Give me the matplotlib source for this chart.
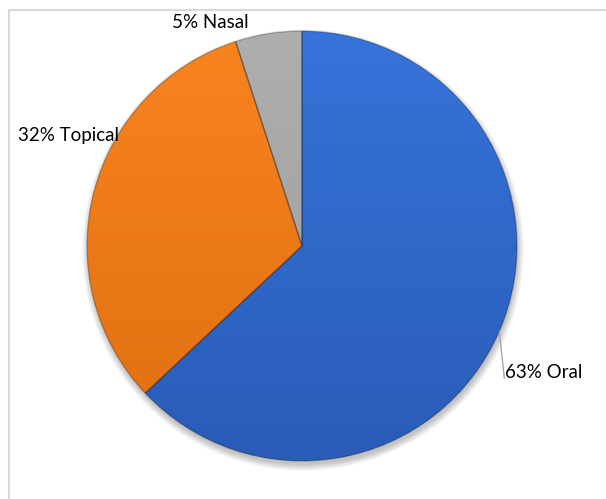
import numpy as np
import matplotlib.pyplot as plt
from matplotlib.colors import LinearSegmentedColormap
from matplotlib.patches import Circle
from matplotlib.lines import Line2D

# Datos del gráfico
categorias = ["Oral", "Topical", "Nasal"]
porcentajes = [63, 32, 5]
colores_claros = ["#3673DA", "#F7841F", "#AEAEAE"]
colores_oscuros = ["#2A5CB8", "#E26F10", "#9C9C9C"]

W, H = 606, 499
cx, cy, r = 302, H - 246, 215

fig = plt.figure(figsize=(W / 100, H / 100), dpi=100)
ax = fig.add_axes([0, 0, 1, 1])

# Marco gris (arriba e izquierda)
fig.add_artist(Line2D([8.5 / W, 1], [1 - 9.5 / H, 1 - 9.5 / H], color="#D9D9D9", lw=1.5))
fig.add_artist(Line2D([8.5 / W, 8.5 / W], [0, 1 - 9.5 / H], color="#D9D9D9", lw=1.5))

# Sombra suave debajo del pastel
for i in range(12):
    ax.add_patch(Circle((cx + 1, cy - 4), r + 6 - i * 0.6, color="black",
                        alpha=0.018, lw=0, zorder=1))

wedges, _ = ax.pie(porcentajes, startangle=90, counterclock=False,
                   center=(cx, cy), radius=r, colors=colores_claros,
                   wedgeprops=dict(linewidth=0.8, zorder=2))

# Degradado vertical dentro de cada porción
grad = np.linspace(0, 1, 256).reshape(-1, 1)
for w, c1, c2 in zip(wedges, colores_claros, colores_oscuros):
    cmap = LinearSegmentedColormap.from_list("g", [c1, c2])
    im = ax.imshow(grad, cmap=cmap, extent=[cx - r, cx + r, cy - r, cy + r],
                   origin="upper", aspect="auto", zorder=3)
    im.set_clip_path(w)

# Bordes finos sobre el degradado
for w in wedges:
    w.set_zorder(4)
    w.set_facecolor("none")
    w.set_edgecolor("#00000040")
    w.set_linewidth(1.0)

# Etiquetas
fuente = dict(family="Lato", fontsize=13.5, color="black")
ax.text(172, H - 22, f"{porcentajes[2]}% {categorias[2]}", va="center", ha="left", **fuente)
ax.text(18, H - 135, f"{porcentajes[1]}% {categorias[1]}", va="center", ha="left", **fuente)

# Línea guía para Oral desde el borde de la porción
w = wedges[0]
medio = np.deg2rad((w.theta1 + w.theta2) / 2)
x0, y0 = cx + r * np.cos(medio), cy + r * np.sin(medio)
ax.plot([x0, x0 + 5], [y0, H - 378], color="#A6A6A6", lw=1, zorder=5)
ax.text(505, H - 372, f"{porcentajes[0]}% {categorias[0]}", va="center", ha="left", **fuente)

ax.set_xlim(0, W)
ax.set_ylim(0, H)
ax.set_aspect("equal")
ax.axis("off")

fig.savefig("out.png", dpi=100)
